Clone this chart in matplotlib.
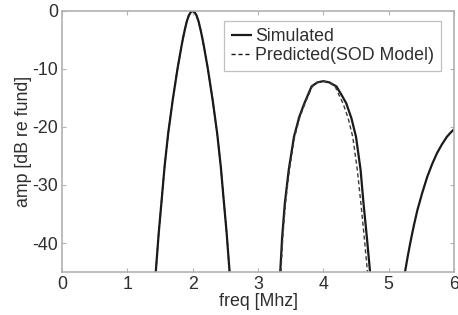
import matplotlib
matplotlib.use('Agg')
import matplotlib.pyplot as plt

# main lobe (simulated and predicted lie on top of each other)
main_freq = [1.435, 1.48, 1.525, 1.57, 1.625, 1.695, 1.77, 1.80, 1.825, 1.85, 1.88, 1.91, 1.94, 1.97,
             2.00, 2.03, 2.06, 2.09, 2.12, 2.15, 2.175, 2.20, 2.23, 2.305, 2.375, 2.43, 2.475, 2.52, 2.565]
main_amp = [-45, -38.3, -32.6, -26.8, -21.1, -15.3, -9.8, -7.9, -6.3, -4.8, -3.2, -1.8, -0.8, -0.2,
            0, -0.2, -0.8, -1.8, -3.2, -4.8, -6.3, -7.9, -9.8, -15.3, -21.1, -26.8, -32.6, -38.3, -45]

# second harmonic lobe
sim2_freq = [3.34, 3.37, 3.41, 3.47, 3.55, 3.63, 3.71, 3.82, 3.91, 4.00,
             4.09, 4.20, 4.28, 4.35, 4.43, 4.50, 4.57, 4.615, 4.665, 4.715]
sim2_amp = [-45, -38.9, -33.2, -27.4, -21.7, -18.3, -15.9, -13.0, -12.3, -12.1,
            -12.3, -13.0, -14.5, -15.9, -18.5, -21.7, -27.4, -33.2, -38.9, -45]
pred2_freq = [3.35, 3.38, 3.42, 3.48, 3.56, 3.64, 3.72, 3.83, 3.91, 4.00,
              4.08, 4.18, 4.24, 4.30, 4.38, 4.45, 4.52, 4.575, 4.625, 4.675]
pred2_amp = [-45, -38.9, -33.2, -27.4, -21.7, -18.3, -15.9, -13.0, -12.3, -12.1,
             -12.3, -13.0, -14.5, -15.9, -18.5, -21.7, -27.4, -33.2, -38.9, -45]

# third harmonic lobe (rising edge only)
sim3_freq = [5.25, 5.29, 5.33, 5.385, 5.44, 5.515, 5.59, 5.665, 5.74, 5.815, 5.89, 5.945, 6.00]
sim3_amp = [-45, -42.4, -40.0, -37.0, -34.3, -31.3, -28.6, -26.4, -24.5, -23.0, -21.7, -21.0, -20.4]

plt.rcParams['font.family'] = ['Liberation Sans', 'DejaVu Sans']
plt.rcParams['axes.unicode_minus'] = False
text_col = '#2e2e2e'
axis_col = '#aeb2b6'
fs = 12.8

fig = plt.figure(figsize=(4.58, 3.15), dpi=100)
ax = fig.add_axes([0.1354, 0.1365, 0.8559, 0.8286])

line_kw = dict(solid_joinstyle='round', solid_capstyle='butt')
ax.plot(main_freq, main_amp, color='#1a1a1a', lw=1.6, label='Simulated', **line_kw)
ax.plot(main_freq, main_amp, color='#1a1a1a', lw=1.0, ls=(0, (3, 2)), label='Predicted(SOD Model)')
ax.plot(sim2_freq, sim2_amp, color='#1a1a1a', lw=1.6, **line_kw)
ax.plot(pred2_freq, pred2_amp, color='#3a3a3a', lw=1.0, ls=(0, (3, 2)))
ax.plot(sim3_freq, sim3_amp, color='#1a1a1a', lw=1.6, **line_kw)

ax.set_xlim(0, 6)
ax.set_ylim(-45, 0)
ax.set_xticks([0, 1, 2, 3, 4, 5, 6])
ax.set_yticks([-40, -30, -20, -10, 0])
ax.tick_params(direction='in', top=True, right=True, length=3, width=0.8,
               color=axis_col, labelsize=fs, labelcolor=text_col, pad=3)
for s in ax.spines.values():
    s.set_color(axis_col)
    s.set_linewidth(1.2)

ax.set_xlabel('freq [Mhz]', fontsize=fs, color=text_col, labelpad=0)
ax.set_ylabel('amp [dB re fund]', fontsize=fs, color=text_col, labelpad=0)

leg = ax.legend(loc='upper right', bbox_to_anchor=(0.967, 0.962), fontsize=fs,
                frameon=True, fancybox=False, handlelength=1.2, handletextpad=0.15,
                borderpad=0.4, labelspacing=0.1, borderaxespad=0)
leg.get_frame().set_edgecolor(axis_col)
leg.get_frame().set_linewidth(0.9)
for t in leg.get_texts():
    t.set_color(text_col)

fig.savefig('out.png', dpi=100)
